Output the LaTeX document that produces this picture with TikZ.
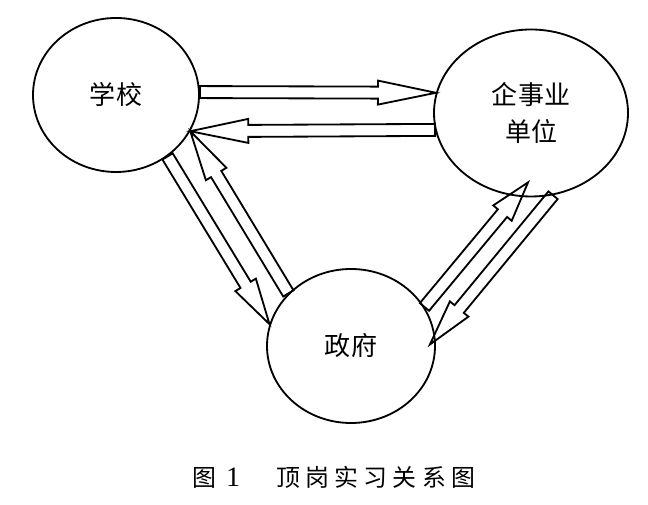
\documentclass[tikz,border=0pt]{standalone}
\usepackage{fontspec}
\newfontfamily\cjk{Noto Sans CJK SC}
\newfontfamily\cjkcap[LetterSpace=22]{Noto Sans CJK SC}
\newfontfamily\capnum{Liberation Serif}
\usetikzlibrary{shapes.geometric, calc}

% hollow arrow from #2 to #3, #1 = head length
\newcommand{\hollowarrow}[3][1.2cm]{%
  \coordinate (hb) at ($(#3)!#1!(#2)$);
  \draw[hollow] ($(#2)!0.15cm!90:(#3)$) -- ($(hb)!0.15cm!90:(#3)$) -- ($(hb)!0.3cm!90:(#3)$) -- (#3)
    -- ($(hb)!0.3cm!-90:(#3)$) -- ($(hb)!0.15cm!-90:(#3)$) -- ($(#2)!0.15cm!-90:(#3)$) -- cycle;
}

\begin{document}
\begin{tikzpicture}[
  unit/.style={ellipse, draw, line width=1.3pt, inner sep=0pt, align=center, font=\cjk\fontsize{18.5}{27}\selectfont},
  hollow/.style={line width=1.3pt, line join=miter}]
\useasboundingbox (0,0) rectangle (16.2,12.625);
%\draw[step=0.5cm,gray,very thin] (0,0) grid (16.2,12.625); %background grid
\node[unit, minimum width=4.15cm, minimum height=3.85cm] (school) at (2.9,10.25) {学校}; %school
\node[unit, minimum width=4.85cm, minimum height=4.175cm] (company) at (13.275,9.8) {企事业\\单位}; %company
\node[unit, minimum width=4.2cm, minimum height=3.85cm] (gov) at (8.775,3.975) {政府}; %government
\coordinate (ctip) at ([yshift=0.375cm]company.-92);
\coordinate (gtip) at ([xshift=-0.15cm]gov.1);
\hollowarrow[1.45cm]{school.2}{company.168}   %school -> company
\hollowarrow[1.45cm]{company.190}{school.-26} %company -> school
\hollowarrow[1.15cm]{school.-50}{gov.165}     %school -> gov
\hollowarrow[1.25cm]{gov.140}{school.-26}     %gov -> school
\hollowarrow[1.0cm]{gov.28}{ctip}             %gov -> company
\hollowarrow[1.15cm]{company.-75}{gtip}       %company -> gov
\node[anchor=west, inner sep=0pt] (caption) at (4.8,0.7) {\fontsize{17}{20}\selectfont\cjk 图\hspace{0.25cm}{\capnum\fontsize{20}{22}\selectfont 1}\hspace{0.9cm}{\cjkcap 顶岗实习关系图}};
\end{tikzpicture}
\end{document}
